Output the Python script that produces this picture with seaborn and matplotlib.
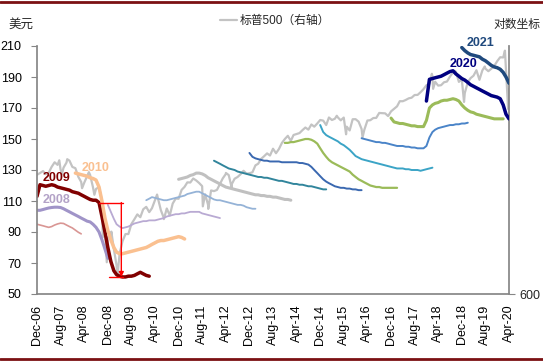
import pandas as pd
import matplotlib.pyplot as plt
import matplotlib.dates as mdates
from matplotlib.lines import Line2D
from matplotlib.ticker import FixedLocator, NullLocator, FixedFormatter
import seaborn as sns

# -------------------------
# Data
# -------------------------
# S&P 500, level at the start of each month from Dec-06 to Apr-20 (right axis, log)
SP_START = "2006-12-01"
sp500 = [
    1401,
    1418, 1438, 1407, 1421, 1482, 1531, 1503, 1455, 1474, 1527, 1549, 1481,
    1468, 1379, 1331, 1323, 1386, 1400, 1280, 1267, 1283, 1166, 969, 896,
    903, 826, 735, 798, 873, 919, 919, 987, 1021, 1057, 1036, 1096,
    1115, 1074, 1104, 1169, 1187, 1089, 1031, 1102, 1049, 1141, 1183, 1181,
    1258, 1286, 1327, 1326, 1364, 1345, 1321, 1292, 1219, 1131, 1253, 1247,
    1258, 1312, 1366, 1408, 1398, 1310, 1362, 1379, 1407, 1441, 1412, 1416,
    1426, 1498, 1515, 1569, 1598, 1631, 1606, 1686, 1633, 1682, 1757, 1806,
    1848, 1783, 1859, 1872, 1884, 1924, 1960, 1931, 2003, 1972, 2018, 2068,
    2059, 1995, 2105, 2068, 2086, 2107, 2063, 2104, 1972, 1920, 2079, 2080,
    2044, 1940, 1932, 2060, 2065, 2097, 2099, 2174, 2171, 2168, 2126, 2199,
    2239, 2279, 2364, 2363, 2384, 2412, 2423, 2470, 2472, 2519, 2575, 2648,
    2674, 2824, 2714, 2641, 2648, 2705, 2718, 2816, 2902, 2914, 2712, 2760,
    2507, 2704, 2784, 2834, 2946, 2752, 2942, 2980, 2926, 2977, 3038, 3141,
    3231, 3226, 2954, 2585,
]
# intramonth highs / lows visible as spikes
sp_extreme_dates = [
    "2007-07-19", "2007-08-15", "2007-10-09", "2008-03-10", "2008-05-19",
    "2008-07-15", "2008-10-10", "2008-11-20", "2009-01-06", "2009-03-09",
    "2010-04-23", "2010-07-02", "2011-08-08", "2011-10-03", "2012-04-02",
    "2012-06-01", "2015-05-21", "2015-08-25", "2016-02-11", "2018-01-26",
    "2018-02-08", "2018-09-20", "2018-12-24", "2019-07-26", "2020-02-19",
    "2020-03-23",
]
sp_extreme_vals = [
    1553, 1407, 1565, 1273, 1427, 1215, 899, 752, 935, 677,
    1217, 1022, 1119, 1099, 1419, 1278, 2131, 1868, 1829, 2873,
    2581, 2931, 2351, 3026, 3386, 2237,
]

# consensus EPS for each calendar year, monthly, USD (left axis)
eps_2007_start = "2006-12-01"
eps_2007 = [95, 94.5, 94, 93.5, 93, 93.5, 94.5, 95.2, 95.7, 95.5, 94.5, 93.5, 92.6,
            91.2, 89.8, 88.8]
eps_2008_start = "2006-12-01"
eps_2008 = [104, 104, 104.5, 105, 105.5, 105.8, 106, 106, 105.8, 105, 104, 103, 102,
            101, 100, 99, 98, 97, 96.5, 95, 93, 90, 85, 79, 73]
eps_2009_start = "2006-12-01"
eps_2009 = [113, 120.5, 120, 119.5, 120, 120.5, 120, 119, 118.5, 118, 117.5, 117, 116,
            115.5, 115, 114, 113, 112, 111, 110.5, 110.5, 109, 100, 90, 80, 71, 65,
            62.5, 61.5, 61, 61, 61.5, 61.5, 62, 63, 64, 63, 62, 61.5]
eps_2010_start = "2008-01-01"
eps_2010 = [128, 127.5, 127, 126.5, 126, 125, 124.5, 123.5, 119, 110, 99, 91, 85, 80,
            77, 76, 76, 76.5, 77, 77.5, 78, 78.5, 79, 79.5, 80, 81, 82, 83, 84, 84.5,
            84.5, 85, 85.5, 86, 86.5, 87, 86.5, 85.5]
eps_2011_start = "2008-12-01"
eps_2011 = [107.5, 103, 98.5, 95, 93.5, 92.5, 93, 93.5, 94.5, 95.5, 96, 96.5, 97, 97,
            97.5, 97.5, 97.5, 98, 98.5, 99, 100, 100.5, 101, 101.5, 101.5, 102, 102,
            102.5, 103, 103, 103, 103, 102, 101.5, 101, 100.5, 100, 99.5, 99]
eps_2012_start = "2010-01-01"
eps_2012 = [110.5, 111.5, 112.5, 112, 111.5, 111, 110.5, 110.5, 111, 111.5, 112, 112.5,
            113, 113.5, 114.5, 115, 115.5, 116, 116, 115, 114, 113, 112, 111, 110.5,
            110.5, 110, 109.5, 109, 108.5, 108, 107.5, 107.5, 107, 106, 105.5, 105, 105]
eps_2013_start = "2010-12-01"
eps_2013 = [124, 124.5, 125, 125.5, 126.5, 127, 128, 128, 127.5, 126.5, 125, 124, 123,
            122, 121, 120, 119, 118.5, 118, 117.5, 117, 116.5, 116, 115.5, 115, 114.5,
            114, 114, 113.5, 113.5, 113, 113, 112.5, 112.5, 112, 111.5, 111, 111, 110.5]
eps_2014_start = "2011-12-01"
eps_2014 = [136, 135, 134, 133, 132, 131, 130.5, 130, 129, 128.5, 128, 127.5, 127, 126.5,
            126, 125.5, 125.5, 125, 125, 124.5, 124, 123.5, 123, 123, 122.5, 122, 121.5,
            121, 121, 120.5, 120.5, 120, 119.5, 119.5, 119, 118.5, 118, 117.5, 117.5]
eps_2015_start = "2012-12-01"
eps_2015 = [141, 138.5, 137.5, 137, 136.5, 136, 136, 135.5, 135.5, 135.5, 135.5, 135, 135,
            135, 135, 135, 135, 134.5, 134.5, 134, 133.5, 132, 130, 128, 126, 124, 122.5,
            121.5, 120.5, 119.5, 119, 118.5, 118.5, 118, 118, 117.5, 117.5, 117, 117]
eps_2016_start = "2013-12-01"
eps_2016 = [147.5, 147.5, 148, 148, 148.5, 149, 149.5, 150, 150, 149.5, 148.5, 147, 144,
            141, 138.5, 136.5, 135, 134, 133, 132, 131, 130, 129, 127, 125.5, 124, 123,
            122, 121, 120, 119.5, 119, 119, 118.5, 118.5, 118.5, 118.5, 118.5, 118.5]
eps_2017_start = "2014-12-01"
eps_2017 = [159, 154.5, 152.5, 151.5, 150.5, 149.5, 148.5, 147, 146, 144.5, 143, 141, 139,
            138, 137, 136.5, 136, 135.5, 135, 134.5, 134, 133.5, 133, 132.5, 132, 131.5,
            131, 131, 131, 130.5, 130.5, 130, 130, 130, 129.5, 130, 130.5, 131, 131.5]
eps_2018_start = "2016-02-01"
eps_2018 = [150.5, 150, 149.5, 149, 148.5, 148, 148, 147.5, 147.5, 147, 146.5, 146, 145.5,
            145.5, 145.5, 145, 145, 144.5, 144.5, 144, 144, 144, 145.5, 151, 154.5, 156,
            157, 157.5, 158, 158.5, 159, 159, 159.5, 159.5, 160, 160, 160.5]
eps_2019_start = "2016-12-01"
eps_2019 = [163.5, 161, 160.5, 160, 160, 159.5, 159, 158.5, 158.5, 158, 158, 158, 162, 170,
            172, 173, 173.5, 174.5, 175, 175, 175.5, 176, 175.5, 174.5, 172, 170, 168.5,
            167.5, 167, 166, 165.5, 165, 164.5, 164, 163.5, 163, 163, 163, 163]
eps_2020_start = "2017-12-01"
eps_2020 = [174.5, 188.5, 189, 189.5, 190, 190.5, 191.5, 192.5, 193.5, 194, 192, 190.5, 189,
            188, 186.5, 185, 184, 183, 182, 181, 180, 179, 178, 177.5, 177, 176, 172, 166,
            163]
eps_2021_start = "2018-12-01"
eps_2021 = [209, 207, 205.5, 204.5, 204, 203.5, 203, 201.5, 200.5, 199, 197.5, 196.5, 196,
            195, 193, 190, 186]

series = [
    ("2007", eps_2007_start, eps_2007, "#d99694", 1.2),
    ("2008", eps_2008_start, eps_2008, "#a094c8", 2.2),
    ("2009", eps_2009_start, eps_2009, "#800000", 2.5),
    ("2010", eps_2010_start, eps_2010, "#fac090", 2.5),
    ("2011", eps_2011_start, eps_2011, "#b9aad3", 1.3),
    ("2012", eps_2012_start, eps_2012, "#95b3d7", 1.3),
    ("2013", eps_2013_start, eps_2013, "#c0c0c0", 2.2),
    ("2014", eps_2014_start, eps_2014, "#31859c", 1.4),
    ("2015", eps_2015_start, eps_2015, "#3a68b0", 1.4),
    ("2016", eps_2016_start, eps_2016, "#9bbb59", 1.6),
    ("2017", eps_2017_start, eps_2017, "#3ba4c6", 1.4),
    ("2018", eps_2018_start, eps_2018, "#4a84c8", 1.4),
    ("2019", eps_2019_start, eps_2019, "#9bbb59", 2.2),
    ("2020", eps_2020_start, eps_2020, "#000080", 2.5),
    ("2021", eps_2021_start, eps_2021, "#1f497d", 2.5),
]

# -------------------------
# Style
# -------------------------
sns.set_theme(style="white")
plt.rcParams["font.family"] = ["Liberation Sans", "Noto Sans CJK SC", "DejaVu Sans"]
AXIS_GREY = "#868686"

fig = plt.figure(figsize=(5.43, 3.61), dpi=100)
ax = fig.add_axes([37 / 543, 1 - 294 / 361, (509 - 37) / 543, (294 - 46) / 361])
ax2 = ax.twinx()

# -------------------------
# S&P 500 (right axis)
# -------------------------
sp = pd.DataFrame({
    "date": list(pd.date_range(SP_START, periods=len(sp500), freq="MS"))
            + list(pd.to_datetime(sp_extreme_dates)),
    "value": sp500 + sp_extreme_vals,
}).sort_values("date")

sns.lineplot(data=sp, x="date", y="value", ax=ax2, color="#c3c3c3", lw=1.6,
             estimator=None, sort=False, legend=False)
sp_handle = ax2.get_lines()[0]
ax2.set_yscale("log")
ax2.set_ylim(600, 3500)
ax2.yaxis.set_major_locator(FixedLocator([600]))
ax2.yaxis.set_major_formatter(FixedFormatter(["600"]))
ax2.yaxis.set_minor_locator(NullLocator())
ax2.set_ylabel("")

# -------------------------
# EPS curves (left axis)
# -------------------------
for name, start, vals, color, lw in series:
    d = pd.DataFrame({"date": pd.date_range(start, periods=len(vals), freq="MS"),
                      "eps": vals})
    sns.lineplot(data=d, x="date", y="eps", ax=ax, color=color, lw=lw,
                 estimator=None, sort=False, legend=False)

ax.set_zorder(ax2.get_zorder() + 1)
ax.patch.set_visible(False)

ax.set_ylim(50, 210)
ax.set_yticks(range(50, 211, 20))
ax.set_xlim(pd.Timestamp("2006-12-01"), pd.Timestamp("2020-04-01"))
ax.set_xticks(pd.date_range("2006-12-01", "2020-04-01", freq="8MS"))
ax.xaxis.set_major_formatter(mdates.DateFormatter("%b-%y"))
ax.set_xlabel("")
ax.set_ylabel("")

for lab in ax.get_xticklabels():
    lab.set_rotation(90)

ax.tick_params(axis="both", labelsize=9, colors="black", length=4, width=0.8,
               direction="out", color=AXIS_GREY)
ax.tick_params(axis="y", pad=7)
ax2.tick_params(axis="y", labelsize=9, length=4, width=0.8, direction="out",
                color=AXIS_GREY)

for s in ["top", "right"]:
    ax.spines[s].set_visible(False)
for s in ["top", "left", "bottom"]:
    ax2.spines[s].set_visible(False)
for s in ["left", "bottom"]:
    ax.spines[s].set_color(AXIS_GREY)
ax2.spines["right"].set_color(AXIS_GREY)

# -------------------------
# Year labels
# -------------------------
labels = [
    ("2009", "2007-02-01", 124.8, "#800000"),
    ("2008", "2007-02-01", 110.6, "#b3a2c7"),
    ("2010", "2008-03-10", 131.3, "#fac090"),
    ("2020", "2018-08-01", 198.5, "#000080"),
    ("2021", "2019-01-15", 212.0, "#1f497d"),
]
for txt, d, y, c in labels:
    ax.text(pd.Timestamp(d), y, txt, color=c, fontsize=9, fontweight="bold",
            va="center", ha="left", clip_on=False)

# -------------------------
# Red bracket: fall of the 2009 estimate
# -------------------------
d09 = pd.date_range(eps_2009_start, periods=len(eps_2009), freq="MS")
top = eps_2009[21]
bottom = min(eps_2009)
x_top0, x_bot0 = mdates.date2num(d09[21]), mdates.date2num(d09[24]) + 12
x_right = mdates.date2num(d09[29]) + 6
x_arrow = mdates.date2num(d09[28]) + 18
ax.plot([x_top0, x_right], [top, top], color="red", lw=1)
ax.plot([x_bot0, x_right], [bottom, bottom], color="red", lw=1)
ax.annotate("", xy=(x_arrow, bottom), xytext=(x_arrow, top),
            arrowprops=dict(arrowstyle="-|>", color="red", lw=1, mutation_scale=7,
                            shrinkA=0, shrinkB=0))

# -------------------------
# Titles, legend, frame
# -------------------------
fig.text(8 / 543, 1 - 25 / 361, "美元", fontsize=9, va="center", ha="left")
fig.text(540 / 543, 1 - 25 / 361, "对数坐标", fontsize=8.5, va="center", ha="right")
fig.legend([sp_handle], ["标普500（右轴）"], loc="center",
           bbox_to_anchor=(275 / 543, 1 - 21 / 361), frameon=False, fontsize=8.5,
           handlelength=1.4, handletextpad=0.2)

fig.add_artist(Line2D([0, 1], [0.995, 0.995], color="#7b1113", lw=2,
                      transform=fig.transFigure))
fig.add_artist(Line2D([0, 1], [0.006, 0.006], color="#7b1113", lw=2,
                      transform=fig.transFigure))

fig.savefig("out.png", dpi=100)
plt.close(fig)
